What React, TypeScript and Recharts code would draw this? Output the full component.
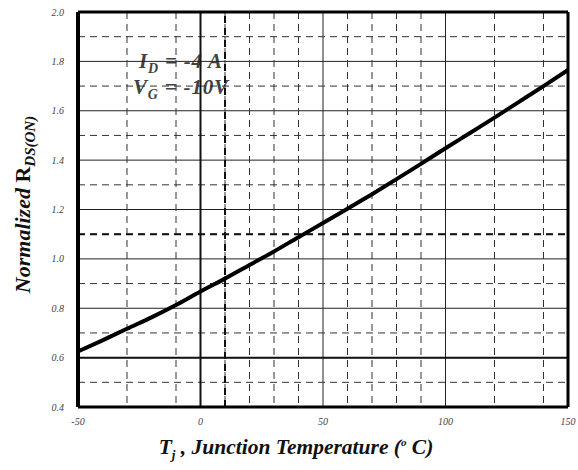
import {
  CartesianGrid,
  Label,
  Line,
  LineChart,
  ReferenceDot,
  ReferenceLine,
  XAxis,
  YAxis,
} from 'recharts';

const temperature = [
  -50, -40, -30, -20, -10, 0, 10, 20, 30, 40, 50, 60, 70, 80, 90, 100, 110, 120,
  130, 140, 150,
];
const rdsOn = [
  0.625, 0.67, 0.717, 0.763, 0.813, 0.868, 0.92, 0.975, 1.03, 1.088, 1.145,
  1.203, 1.262, 1.323, 1.385, 1.448, 1.51, 1.572, 1.636, 1.7, 1.765,
];

const xTicks = [-50, 0, 50, 100, 150];
const yTicks = [0.4, 0.6, 0.8, 1.0, 1.2, 1.4, 1.6, 1.8, 2.0];
const xMinor = [
  -40, -30, -20, -10, 10, 20, 30, 40, 60, 70, 80, 90, 110, 120, 130, 140,
];
const yMinor = [0.5, 0.7, 0.9, 1.1, 1.3, 1.5, 1.7, 1.9];

const data = temperature.map((t, i) => ({ t, r: rdsOn[i] }));

const serif = 'Liberation Serif, Times New Roman, DejaVu Serif, serif';

const tickStyle = {
  fontSize: 10,
  fontStyle: 'italic',
  fontFamily: serif,
  fill: '#444',
};

function XTitle(props: any) {
  const { x, y, width } = props.viewBox;
  return (
    <text
      x={x + width / 2 - 27}
      y={y + 47}
      textAnchor="middle"
      style={{ fontFamily: serif, fontSize: 21.5, fontStyle: 'italic', fontWeight: 'bold' }}
      fill="#111"
    >
      <tspan>T</tspan>
      <tspan dy={5} style={{ fontSize: 13 }}>
        j
      </tspan>
      <tspan dy={-5}> , Junction Temperature (</tspan>
      <tspan dy={-8} style={{ fontSize: 11 }}>
        o
      </tspan>
      <tspan dy={8}> C)</tspan>
    </text>
  );
}

function YTitle(props: any) {
  const { y, height } = props.viewBox;
  const cx = 30;
  const cy = y + height / 2 - 5;
  return (
    <text
      x={cx}
      y={cy}
      textAnchor="middle"
      transform={`rotate(-90, ${cx}, ${cy})`}
      style={{ fontFamily: serif, fontSize: 22, fontStyle: 'italic', fontWeight: 'bold' }}
      fill="#111"
    >
      <tspan>Normalized </tspan>
      <tspan style={{ fontStyle: 'normal' }}>R</tspan>
      <tspan dy={5} style={{ fontSize: 15 }}>
        DS(ON)
      </tspan>
    </text>
  );
}

function Conditions(props: any) {
  const { x, y } = props.viewBox;
  const font = {
    fontFamily: serif,
    fontSize: 21,
    fontStyle: 'italic',
    fontWeight: 'bold',
    letterSpacing: 0.8,
  };
  return (
    <g fill="#222" opacity={0.85}>
      <text x={x} y={y + 7} textAnchor="middle" style={font}>
        <tspan>I</tspan>
        <tspan dy={5} style={{ fontSize: 14 }}>
          D
        </tspan>
        <tspan dy={-5}> = -4 A</tspan>
      </text>
      <text x={x} y={y + 33} textAnchor="middle" style={font}>
        <tspan>V</tspan>
        <tspan dy={5} style={{ fontSize: 14 }}>
          G
        </tspan>
        <tspan dy={-5}> = -10V</tspan>
      </text>
    </g>
  );
}

export default function App() {
  return (
    <div style={{ position: 'absolute', left: 0, top: 0, background: '#fff' }}>
      <LineChart
        width={578}
        height={470}
        data={data}
        margin={{ top: 12, right: 10, bottom: 0, left: 0 }}
      >
        <CartesianGrid
          stroke="#222"
          strokeWidth={1}
          horizontalValues={yTicks}
          verticalValues={xTicks}
        />
        <CartesianGrid
          stroke="#333"
          strokeWidth={1}
          strokeDasharray="7 5"
          horizontalValues={yMinor}
          verticalValues={xMinor}
        />
        <XAxis
          type="number"
          dataKey="t"
          domain={[-50, 150]}
          ticks={xTicks}
          tickLine={false}
          axisLine={false}
          tickSize={0}
          tickMargin={11}
          tick={tickStyle}
          height={63}
        >
          <Label content={XTitle} />
        </XAxis>
        <YAxis
          type="number"
          domain={[0.4, 2.0]}
          ticks={yTicks}
          tickFormatter={(v: number) => v.toFixed(1)}
          tickLine={false}
          axisLine={false}
          tickSize={0}
          tickMargin={14}
          tick={tickStyle}
          width={78}
        >
          <Label content={YTitle} />
        </YAxis>
        <ReferenceLine x={10} stroke="#111" strokeWidth={2} strokeDasharray="7 5" />
        <ReferenceLine y={1.1} stroke="#111" strokeWidth={2} strokeDasharray="7 5" />
        <ReferenceLine y={0.6} stroke="#111" strokeWidth={2} />
        <ReferenceLine x={0} stroke="#111" strokeWidth={2} />
        <ReferenceLine x={-50} stroke="#000" strokeWidth={4} />
        <ReferenceLine x={150} stroke="#000" strokeWidth={3} />
        <ReferenceLine y={0.4} stroke="#000" strokeWidth={3} />
        <ReferenceLine y={2.0} stroke="#000" strokeWidth={3} />
        <ReferenceDot x={-8} y={1.8} r={0} fill="none" stroke="none">
          <Label content={Conditions} />
        </ReferenceDot>
        <Line
          type="monotone"
          dataKey="r"
          stroke="#000"
          strokeWidth={4}
          dot={false}
          isAnimationActive={false}
        />
      </LineChart>
    </div>
  );
}
